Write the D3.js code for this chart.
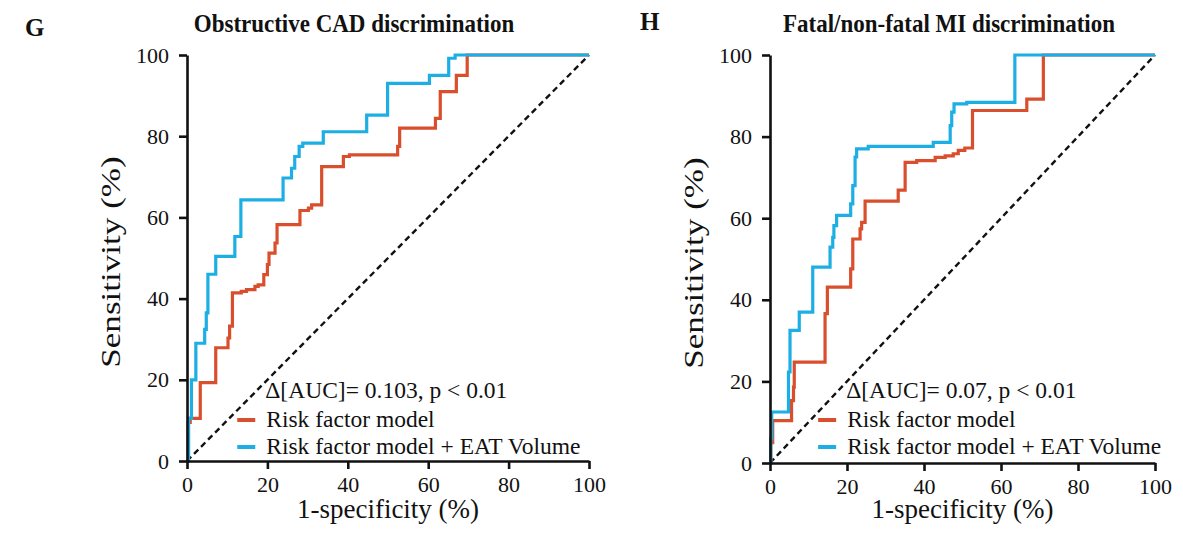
<!DOCTYPE html>
<html>
<head>
<meta charset="utf-8">
<script src="https://cdn.jsdelivr.net/npm/d3@7"></script>
<style>
  html, body { margin: 0; padding: 0; background: #fff; }
  svg { display: block; }
  svg text { font-family: "Liberation Serif", "DejaVu Serif", serif; }
</style>
</head>
<body>
<svg id="chart" width="1183" height="534"></svg>
<script>
// ROC curve vertices (false-positive rate %, true-positive rate %)
// Panel G: obstructive CAD
const cadRiskFpr = [0, 0.3, 0.8, 3.3, 7.15, 10.2, 10.6, 11.3, 13.5, 14.8, 16.9, 17.7, 19.1, 20.0, 20.4, 21.9, 22.4, 28.1, 30.2, 31.0, 33.5, 38.9, 40.4, 52.4, 52.9, 61.8, 63.0, 67.0, 69.7, 100];
const cadRiskTpr = [0, 9.5, 10.5, 19.3, 27.9, 30.3, 33.2, 41.4, 41.8, 42.2, 43.0, 43.4, 45.9, 48.4, 51.2, 53.7, 58.2, 61.7, 62.3, 63.1, 72.5, 75.0, 75.4, 77.5, 82.0, 84.4, 91.0, 95.0, 100, 100];
const cadEatFpr = [0, 0.4, 1.1, 2.2, 4.4, 4.8, 5.2, 7.15, 11.9, 13.4, 23.9, 26.0, 26.8, 27.9, 28.8, 33.9, 44.7, 49.9, 60.3, 65.1, 66.7, 100];
const cadEatTpr = [0, 10.5, 20.0, 29.0, 32.4, 36.5, 46.0, 50.4, 55.3, 64.3, 69.7, 72.1, 75.0, 77.5, 78.3, 81.1, 85.2, 93.0, 95.0, 99.2, 100, 100];

// Panel H: fatal/non-fatal MI
const miRiskFpr = [0, 0.2, 0.7, 5.6, 6.1, 6.3, 14.3, 14.9, 20.95, 21.5, 23.4, 23.8, 24.7, 33.3, 35.1, 38.1, 42.9, 45.5, 47.6, 48.9, 50.6, 52.6, 66.7, 71.0, 100];
const miRiskTpr = [0, 5.0, 10.4, 15.3, 18.6, 24.7, 36.6, 43.1, 47.6, 54.9, 57.4, 59.0, 64.2, 66.9, 73.7, 74.1, 74.9, 75.3, 75.8, 76.6, 77.2, 86.4, 89.2, 100, 100];
const miEatFpr = [0, 0.2, 0.45, 4.8, 5.2, 7.6, 11.1, 15.6, 16.3, 16.6, 17.3, 20.95, 21.5, 22.1, 22.5, 25.5, 42.4, 46.8, 47.2, 47.8, 51.1, 63.6, 100];
const miEatTpr = [0, 6.0, 12.5, 22.3, 32.5, 37.0, 48.0, 52.9, 55.3, 58.2, 60.7, 63.5, 68.0, 75.0, 77.0, 77.6, 78.6, 82.7, 86.0, 88.0, 88.4, 100, 100];

const tickValues = [0, 20, 40, 60, 80, 100];
const panelLetters = ["G", "H"];
const panelTitles = ["Obstructive CAD discrimination", "Fatal/non-fatal MI discrimination"];
const aucNotes = ["\u0394[AUC]= 0.103, p < 0.01", "\u0394[AUC]= 0.07, p < 0.01"];
const seriesNames = ["Risk factor model", "Risk factor model + EAT Volume"];
const xTitle = "1-specificity (%)";
const yTitle = "Sensitivity (%)";

const RED = "#d94f2d";
const BLUE = "#1daee4";
const FONT = "'Liberation Serif', 'DejaVu Serif', serif";

const svg = d3.select("#chart");

const panels = [
  { letter: panelLetters[0], title: panelTitles[0], note: aucNotes[0],
    risk: d3.zip(cadRiskFpr, cadRiskTpr), eat: d3.zip(cadEatFpr, cadEatTpr),
    x0: 187, x1: 589, y0: 461, y1: 55, letterX: 25, letterY: 36, titleX: 354, titleY: 32, yLabelX: 120 },
  { letter: panelLetters[1], title: panelTitles[1], note: aucNotes[1],
    risk: d3.zip(miRiskFpr, miRiskTpr), eat: d3.zip(miEatFpr, miEatTpr),
    x0: 770, x1: 1155, y0: 463, y1: 55, letterX: 640, letterY: 30, titleX: 949, titleY: 32, yLabelX: 703 }
];

function addText(g, x, y, str, opts) {
  const sx = opts.sx || 1, sy = opts.sy || 1, rot = opts.rotate || 0;
  return g.append("text")
    .attr("transform", `translate(${x},${y}) rotate(${rot}) scale(${sx},${sy})`)
    .attr("text-anchor", opts.anchor || "start")
    .attr("font-family", FONT)
    .attr("font-size", opts.size)
    .attr("font-weight", opts.weight || "normal")
    .attr("fill", "#111")
    .text(str);
}

panels.forEach(p => {
  const g = svg.append("g");
  const x = d3.scaleLinear().domain([0, 100]).range([p.x0, p.x1]);
  const y = d3.scaleLinear().domain([0, 100]).range([p.y0, p.y1]);

  // panel letter and title
  addText(g, p.letterX, p.letterY, p.letter, { size: 25, weight: "bold" });
  addText(g, p.titleX, p.titleY, p.title, { size: 23, weight: "bold", anchor: "middle", sy: 1.1 });

  // chance line
  g.append("line")
    .attr("x1", x(0)).attr("y1", y(0))
    .attr("x2", x(100)).attr("y2", y(100))
    .attr("stroke", "#111").attr("stroke-width", 2.4)
    .attr("stroke-dasharray", "6,4");

  // ROC step curves
  const line = d3.line()
    .x(d => x(d[0])).y(d => y(d[1]))
    .curve(d3.curveStepAfter);

  g.append("path").datum(p.risk)
    .attr("d", line).attr("fill", "none")
    .attr("stroke", RED).attr("stroke-width", 3.2)
    .attr("stroke-linejoin", "miter");
  g.append("path").datum(p.eat)
    .attr("d", line).attr("fill", "none")
    .attr("stroke", BLUE).attr("stroke-width", 3.2)
    .attr("stroke-linejoin", "miter");

  // axes
  const xAxis = d3.axisBottom(x).tickValues(tickValues).tickSize(8).tickSizeOuter(0).tickPadding(7);
  const yAxis = d3.axisLeft(y).tickValues(tickValues).tickSize(8).tickSizeOuter(0).tickPadding(10);

  const gx = g.append("g").attr("transform", `translate(0,${p.y0})`).call(xAxis);
  const gy = g.append("g").attr("transform", `translate(${p.x0},0)`).call(yAxis);
  [gx, gy].forEach(a => {
    a.attr("font-family", FONT).attr("font-size", 22);
    a.select(".domain").attr("stroke", "#111").attr("stroke-width", 2.6);
    a.selectAll(".tick line").attr("stroke", "#111").attr("stroke-width", 2.6);
    a.selectAll(".tick text").attr("fill", "#111");
  });

  // axis titles
  addText(g, (p.x0 + p.x1) / 2, 518, xTitle, { size: 27, anchor: "middle" });
  addText(g, p.yLabelX, (p.y0 + p.y1) / 2 + 4, yTitle, { size: 27, anchor: "middle", rotate: -90, sx: 1.3 });

  // legend
  const lx = x(12.5);
  addText(g, lx + 28, 398, p.note, { size: 23.5 });
  const items = [{ name: seriesNames[0], color: RED, ly: 420 }, { name: seriesNames[1], color: BLUE, ly: 447 }];
  items.forEach(it => {
    g.append("line")
      .attr("x1", lx).attr("x2", lx + 18)
      .attr("y1", it.ly).attr("y2", it.ly)
      .attr("stroke", it.color).attr("stroke-width", 4);
    addText(g, lx + 29, it.ly + 7, it.name, { size: 23.5 });
  });
});
</script>
</body>
</html>
